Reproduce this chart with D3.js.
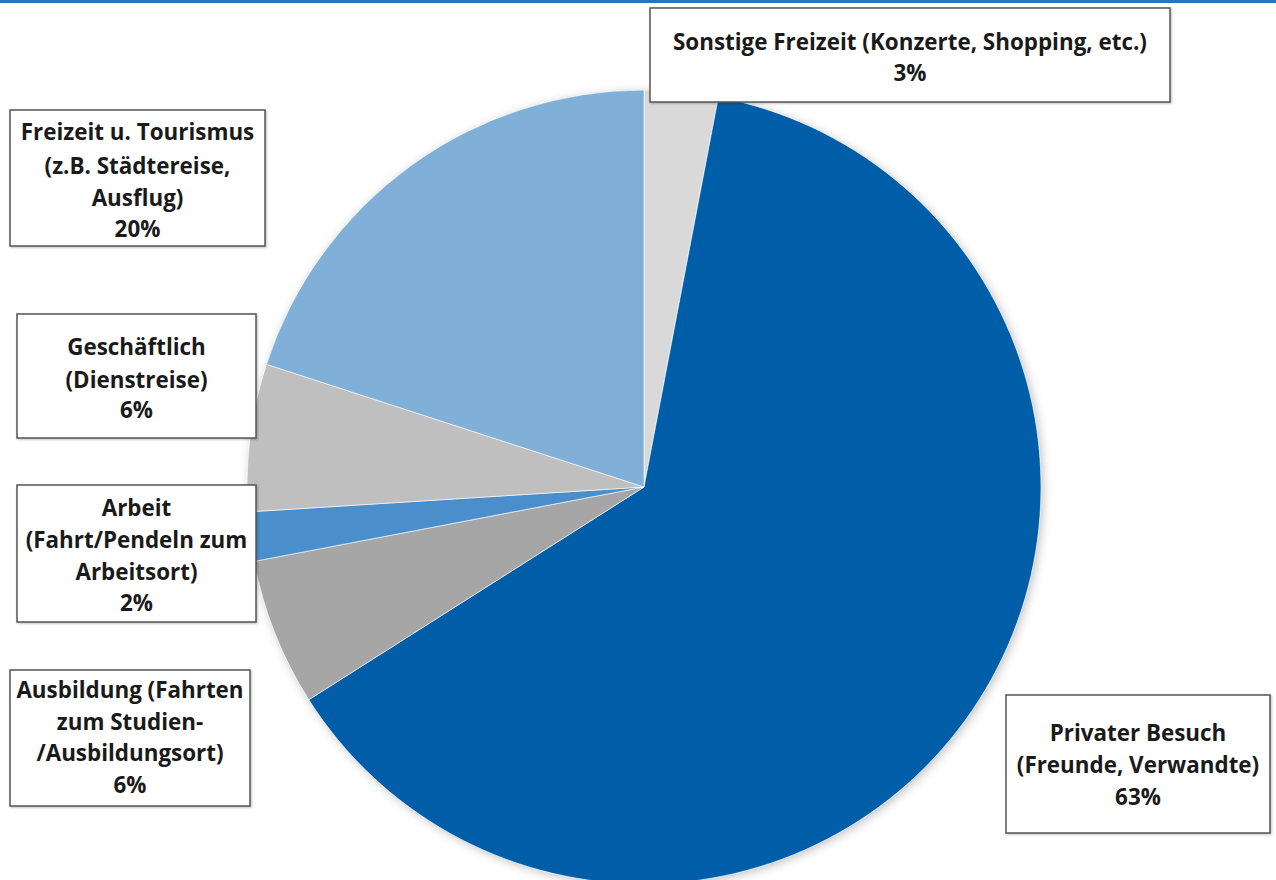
<!DOCTYPE html>
<html><head><meta charset="utf-8">
<script src="https://cdn.jsdelivr.net/npm/d3@7"></script>
<style>body{margin:0;background:#fff}svg{display:block}</style>
</head><body>
<svg id="c" width="1276" height="880"></svg>
<script>
// ---- data ----
const categories = ["Sonstige Freizeit", "Privater Besuch", "Ausbildung", "Arbeit", "Geschäftlich", "Freizeit u. Tourismus"];
const values = [3, 63, 6, 2, 6, 20];
const labelLines = [
  ["Sonstige Freizeit (Konzerte, Shopping, etc.)"],
  ["Privater Besuch", "(Freunde, Verwandte)"],
  ["Ausbildung (Fahrten", "zum Studien-", "/Ausbildungsort)"],
  ["Arbeit", "(Fahrt/Pendeln zum", "Arbeitsort)"],
  ["Geschäftlich", "(Dienstreise)"],
  ["Freizeit u. Tourismus", "(z.B. Städtereise,", "Ausflug)"]
];
// ---- style / layout ----
const colors = ["#d9d9d9", "#005ea9", "#a6a6a6", "#4a8fcb", "#bfbfbf", "#80b0d8"];
const boxes = [
  {x:650, y:8,   w:520, h:94,  ty:[42,73]},
  {x:1006,y:695, w:264, h:138, ty:[733,765,797]},
  {x:10,  y:670, w:240, h:136, ty:[690,722,753,785]},
  {x:17,  y:485, w:239, h:137, ty:[508,540,572,603]},
  {x:17,  y:314, w:239, h:124, ty:[347,380,410]},
  {x:10,  y:110, w:255, h:136, ty:[132,166,198,229]}
];

const svg = d3.select("#c");
const defs = svg.append("defs");
const f = defs.append("filter").attr("id","sh").attr("x","-10%").attr("y","-10%").attr("width","120%").attr("height","120%");
f.append("feDropShadow").attr("dx",2).attr("dy",2).attr("stdDeviation",5).attr("flood-color","#000").attr("flood-opacity",0.25);
const fb = defs.append("filter").attr("id","bsh").attr("x","-5%").attr("y","-5%").attr("width","110%").attr("height","110%");
fb.append("feDropShadow").attr("dx",1).attr("dy",1).attr("stdDeviation",1).attr("flood-color","#000").attr("flood-opacity",0.25);

// top rule
svg.append("rect").attr("x",0).attr("y",0).attr("width",1276).attr("height",3).attr("fill","#2a72c0");

const cx = 644, cy = 487, r = 397;
const pie = d3.pie().sort(null).value(d => d)(values);
const arc = d3.arc().innerRadius(0).outerRadius(r);
const g = svg.append("g").attr("transform", `translate(${cx},${cy})`);
g.append("circle").attr("r", r).attr("fill","#fff").attr("filter","url(#sh)");
g.selectAll("path").data(pie).join("path")
  .attr("d", arc)
  .attr("fill", (d,i) => colors[i])
  .attr("stroke", "rgba(255,255,255,0.6)")
  .attr("stroke-width", 1);

// labels
const fontFam = "'Open Sans', Lato, sans-serif";
const lg = svg.append("g");
boxes.forEach((b, i) => {
  lg.append("rect").attr("x", b.x).attr("y", b.y).attr("width", b.w).attr("height", b.h)
    .attr("fill", "#fff").attr("stroke", "#555").attr("stroke-width", 1.5).attr("filter","url(#bsh)");
  const lines = labelLines[i].concat([values[i] + "%"]);
  lines.forEach((t, j) => {
    lg.append("text").attr("x", b.x + b.w/2).attr("y", b.ty[j] - 1)
      .attr("text-anchor", "middle").attr("dominant-baseline", "central")
      .attr("font-family", fontFam).attr("font-weight", "bold").attr("font-size", 22.4)
      .attr("fill", "#1a1a1a").text(t);
  });
});
</script>
</body></html>
